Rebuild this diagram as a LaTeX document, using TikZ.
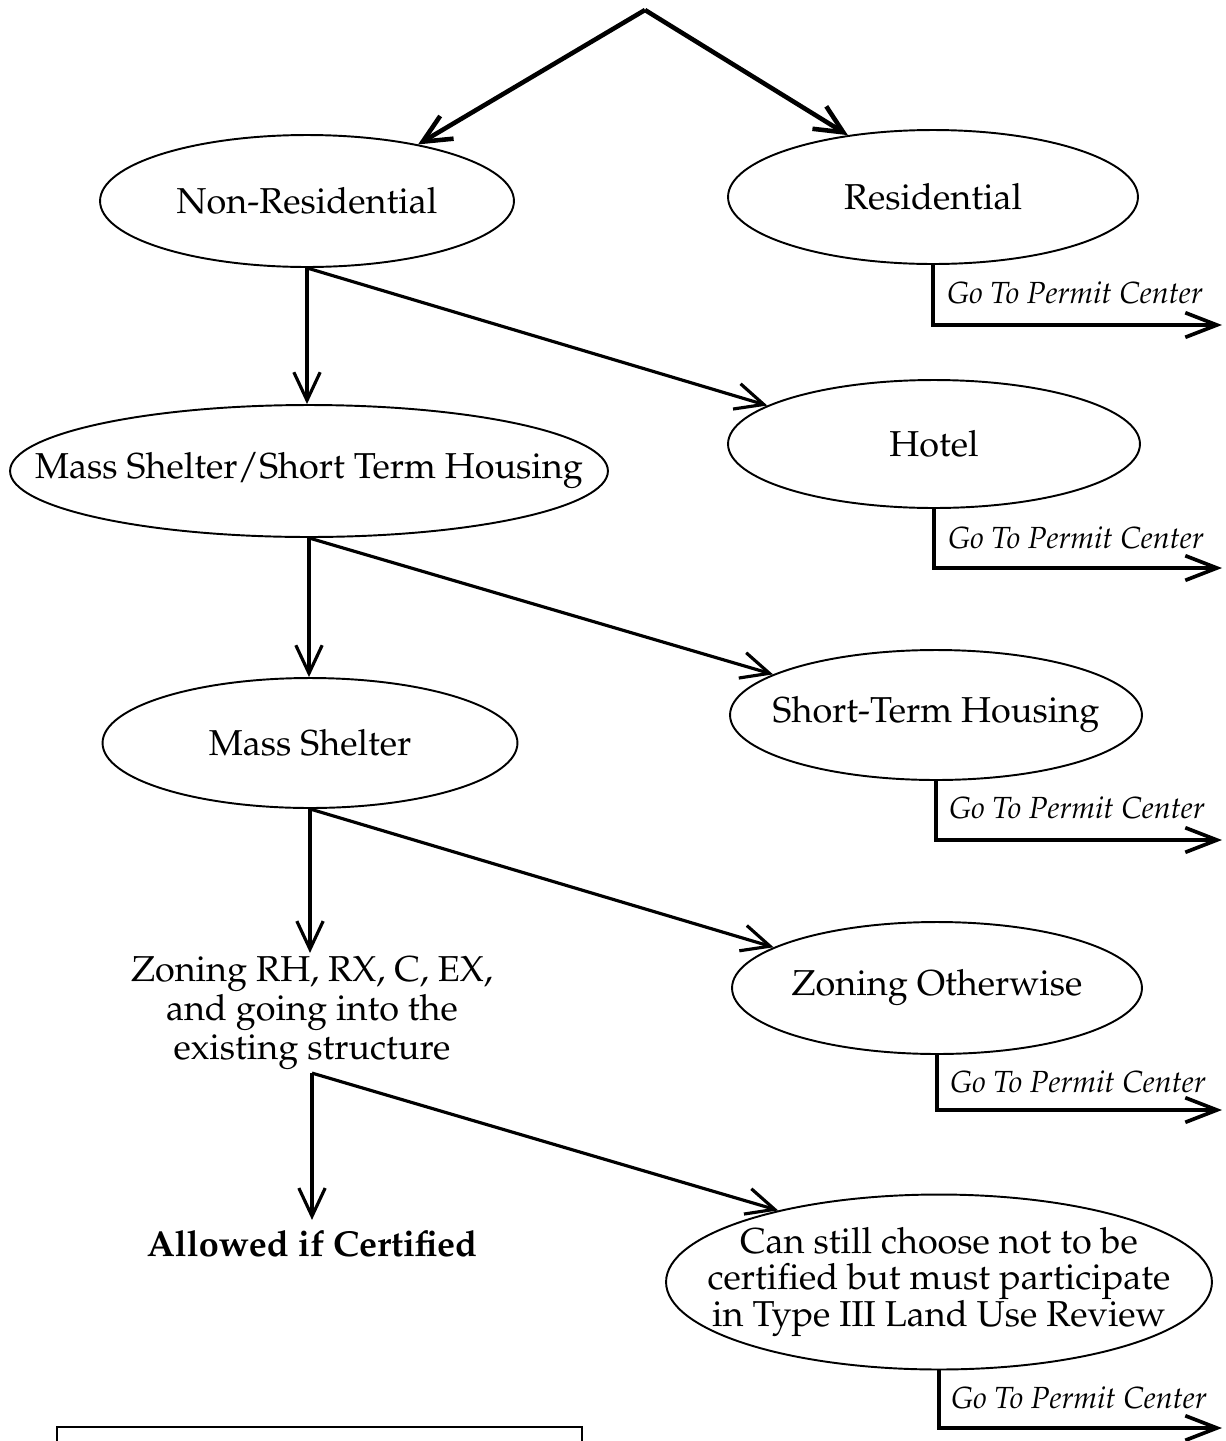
\documentclass[tikz,border=0pt]{standalone}
\usepackage[T1]{fontenc}
\usepackage{mathpazo}
\usetikzlibrary{shapes.geometric,arrows.meta}
\newcommand{\mainfs}{\fontsize{20.5}{21}\selectfont}
\newcommand{\zonfs}{\fontsize{20.5}{22}\selectfont}
\newcommand{\permfs}{\fontsize{17.4}{20}\selectfont\itshape}
\begin{document}
\begin{tikzpicture}[x=0.02cm,y=-0.02cm,
  oval/.style={ellipse,draw,line width=1.1pt,inner sep=0pt},
  lbl/.style={font=\mainfs,align=center},
  arr/.style={line width=1.8pt,-{Straight Barb[length=16pt,width=15pt]}},
  toparr/.style={line width=2.6pt,-{Straight Barb[length=16pt,width=15pt]}},
  parr/.style={line width=2.1pt,-{Straight Barb[length=18pt,width=14pt]}},
  permit/.style={font=\permfs,inner sep=0pt}]
\useasboundingbox (0,0) rectangle (1226,1441);
% ellipses
\node[oval,minimum width=8.28cm,minimum height=2.64cm,label={[lbl]center:Non-Residential}] (nr) at (307,201) {};
\node[oval,minimum width=8.2cm,minimum height=2.68cm,label={[lbl]center:Residential}] (res) at (933,197) {};
\node[oval,minimum width=11.96cm,minimum height=2.64cm,label={[lbl]center:Mass Shelter/Short Term Housing}] (msst) at (309,471) {};
\node[oval,minimum width=8.24cm,minimum height=2.56cm,label={[lbl]center:Hotel}] (hotel) at (934,444) {};
\node[oval,minimum width=8.24cm,minimum height=2.6cm,label={[lbl]center:Short-Term Housing}] (sth) at (936,715) {};
\node[oval,minimum width=8.3cm,minimum height=2.6cm,label={[lbl]center:Mass Shelter}] (ms) at (310,743) {};
\node[oval,minimum width=8.2cm,minimum height=2.64cm,label={[lbl]center:Zoning Otherwise}] (zo) at (937,988) {};
\node[oval,minimum width=10.92cm,minimum height=3.5cm,label={[lbl]center:Can still choose not to be\\certified but must participate\\in Type III Land Use Review}] (can) at (939,1282) {};
% plain text nodes
\node[lbl,font=\zonfs,inner sep=2pt] (zon) at (312,1013) {Zoning RH, RX, C, EX,\\and going into the\\existing structure};
\node[lbl,inner sep=6pt,font=\mainfs\bfseries] (allow) at (312,1244) {Allowed if Certified};
% top
\coordinate (apex) at (645,10);
\draw[toparr,line join=miter] (apex) -- (nr.27.4);
\draw[toparr] (apex) -- (res.144.6);
% vertical arrows
\draw[arr] (nr.south) -- (nr.south |- msst.north);
\draw[arr] (msst.south) -- (msst.south |- ms.north);
\draw[arr] (ms.south) -- (ms.south |- zon.north);
\draw[arr] (zon.south) -- (zon.south |- allow.north);
% diagonal arrows
\draw[arr] (nr.south) -- (hotel.167.6);
\draw[arr] (msst.south) -- (sth.166.8);
\draw[arr] (ms.south) -- (zo.166.5);
\draw[arr] (zon.south) -- (can.156.9);
% permit center exits
\coordinate (p1) at (1222,325);
\coordinate (p2) at (1222,568);
\coordinate (p3) at (1222,840);
\coordinate (p4) at (1222,1110);
\coordinate (p5) at (1222,1428);
\draw[parr] (res.south) |- (p1);
\draw[parr] (hotel.south) |- (p2);
\draw[parr] (sth.south) |- (p3);
\draw[parr] (zo.south) |- (p4);
\draw[parr] (can.south) |- (p5);
\node[permit] (t1) at (1075,293) {Go To Permit Center};
\node[permit] (t2) at (1076,538) {Go To Permit Center};
\node[permit] (t3) at (1077,808) {Go To Permit Center};
\node[permit] (t4) at (1078,1082) {Go To Permit Center};
\node[permit] (t5) at (1079,1398) {Go To Permit Center};
% bottom box (cut off)
\coordinate (b1) at (57,1441);
\coordinate (b2) at (582,1441);
\draw[line width=1.1pt] (b1) -- (57,1427) -- (582,1427) -- (b2);
\end{tikzpicture}
\end{document}
